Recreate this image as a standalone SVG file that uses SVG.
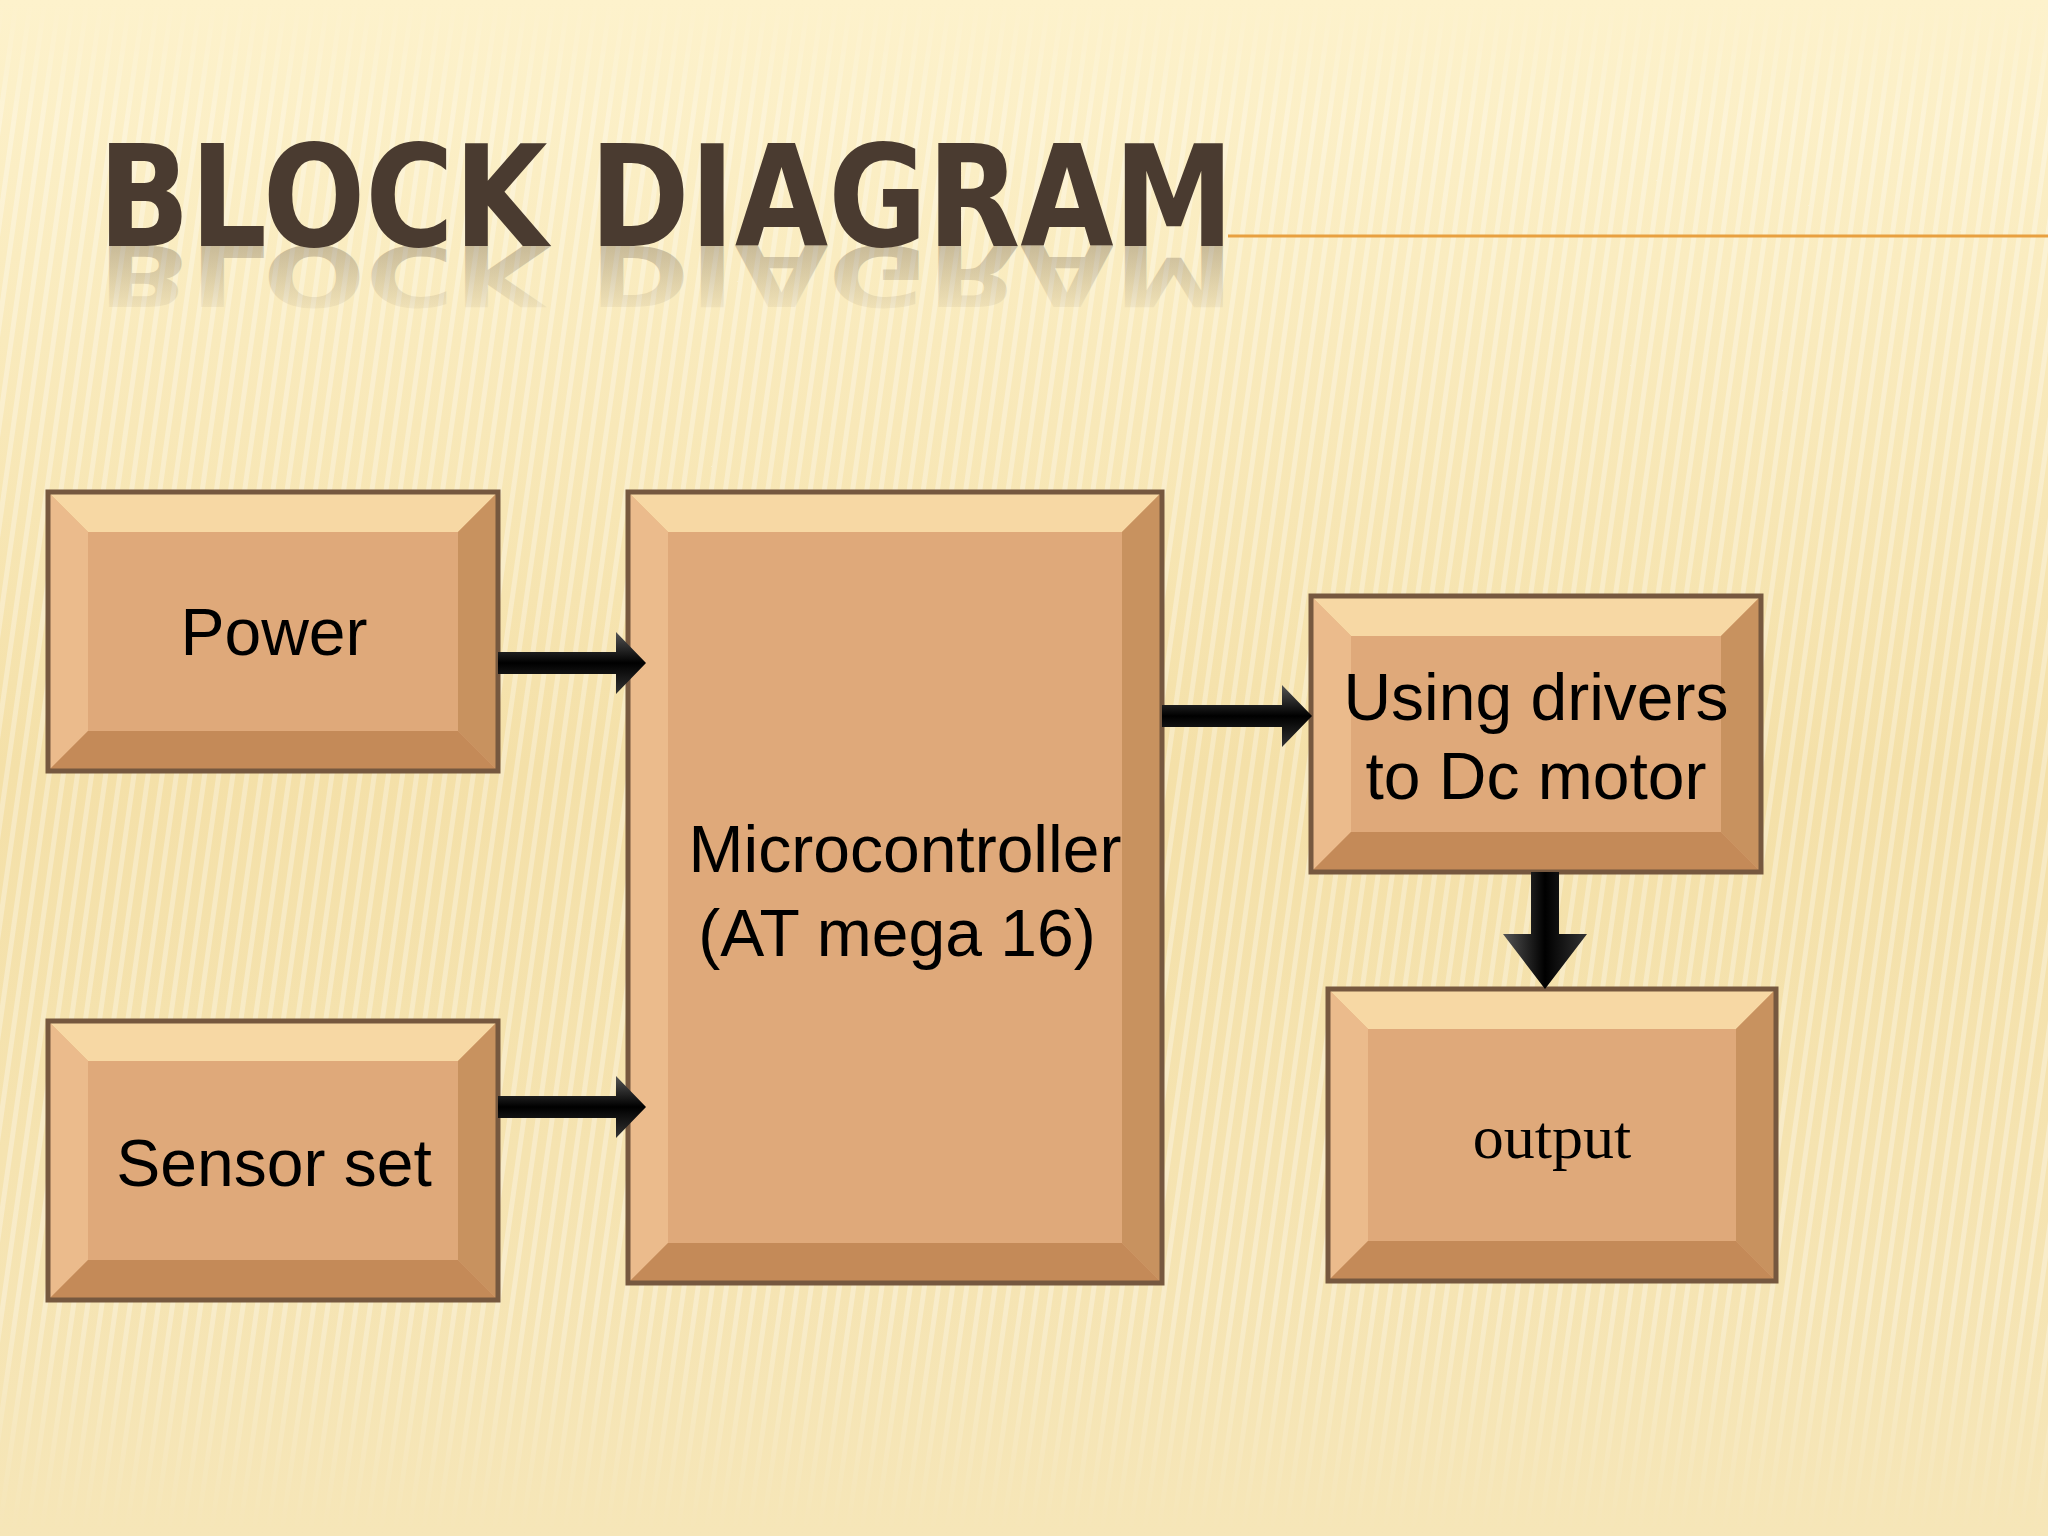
<svg xmlns="http://www.w3.org/2000/svg" width="2048" height="1536" viewBox="0 0 2048 1536">
<defs>
<linearGradient id="bg" x1="0" y1="0" x2="0" y2="1">
<stop offset="0" stop-color="#fdf2cc"/><stop offset="0.5" stop-color="#f4e0a8"/><stop offset="1" stop-color="#f6e6b8"/>
</linearGradient>
<linearGradient id="stripefade" x1="0" y1="0" x2="0" y2="1">
<stop offset="0" stop-color="#fff" stop-opacity="0"/><stop offset="0.08" stop-color="#fff" stop-opacity="1"/><stop offset="0.85" stop-color="#fff" stop-opacity="1"/><stop offset="1" stop-color="#fff" stop-opacity="0"/>
</linearGradient>
<mask id="fade"><rect width="2048" height="1536" fill="url(#stripefade)"/></mask>
<linearGradient id="refl" x1="0" y1="0" x2="0" y2="1"><stop offset="0" stop-color="#4a3b30" stop-opacity="0"/><stop offset="1" stop-color="#4a3b30" stop-opacity="0.35"/></linearGradient>
<pattern id="stripes" width="14" height="40" patternUnits="userSpaceOnUse" patternTransform="rotate(8)">
<rect width="5" height="40" fill="#ffffff" opacity="0.3"/>
</pattern>
<linearGradient id="arr" x1="0" y1="0" x2="0" y2="1"><stop offset="0" stop-color="#555"/><stop offset="0.5" stop-color="#000"/><stop offset="1" stop-color="#333"/></linearGradient>
<linearGradient id="arrv" x1="0" y1="0" x2="1" y2="0"><stop offset="0" stop-color="#555"/><stop offset="0.5" stop-color="#000"/><stop offset="1" stop-color="#333"/></linearGradient>
</defs>
<style>
.f{fill:#dfa97a}.t{fill:#f7d8a4}.l{fill:#ebbb8c}.r{fill:#c8925f}.b{fill:#c48a58}
.o{fill:none;stroke:#76583f;stroke-width:5}
.tx{font-family:"Liberation Sans",Arial,sans-serif;font-size:66px;fill:#000;text-anchor:middle}
.ti{font-family:'Comic Sans MS','DejaVu Sans',sans-serif;font-size:140px;font-weight:bold}
</style>
<rect width="2048" height="1536" fill="url(#bg)"/>
<rect width="2048" height="1536" fill="url(#stripes)" mask="url(#fade)"/>
<line x1="1228" y1="236" x2="2048" y2="236" stroke="#e8a040" stroke-width="3"/>
<text x="98" y="246" class="ti" transform="translate(0,393.6) scale(1,-0.6)" fill="url(#refl)" textLength="1136" lengthAdjust="spacingAndGlyphs">BLOCK DIAGRAM</text>
<text x="98" y="246" class="ti" fill="#4a3b30" textLength="1136" lengthAdjust="spacingAndGlyphs">BLOCK DIAGRAM</text>
<g id="power">
<rect x="48" y="492" width="450" height="279" class="f"/>
<polygon points="48,492 498,492 458,532 88,532" class="t"/><polygon points="48,492 88,532 88,731 48,771" class="l"/>
<polygon points="498,492 498,771 458,731 458,532" class="r"/><polygon points="48,771 88,731 458,731 498,771" class="b"/>
<rect x="48" y="492" width="450" height="279" class="o"/>
<text x="274" y="655" class="tx">Power</text></g>
<g id="sensor">
<rect x="48" y="1021" width="450" height="279" class="f"/>
<polygon points="48,1021 498,1021 458,1061 88,1061" class="t"/><polygon points="48,1021 88,1061 88,1260 48,1300" class="l"/>
<polygon points="498,1021 498,1300 458,1260 458,1061" class="r"/><polygon points="48,1300 88,1260 458,1260 498,1300" class="b"/>
<rect x="48" y="1021" width="450" height="279" class="o"/>
<text x="274" y="1186" class="tx">Sensor set</text></g>
<g id="micro">
<rect x="628" y="492" width="534" height="791" class="f"/>
<polygon points="628,492 1162,492 1122,532 668,532" class="t"/><polygon points="628,492 668,532 668,1243 628,1283" class="l"/>
<polygon points="1162,492 1162,1283 1122,1243 1122,532" class="r"/><polygon points="628,1283 668,1243 1122,1243 1162,1283" class="b"/>
<rect x="628" y="492" width="534" height="791" class="o"/>
<text x="905" y="872" class="tx">Microcontroller</text><text x="897" y="956" class="tx">(AT mega 16)</text></g>
<g id="drivers">
<rect x="1311" y="596" width="450" height="276" class="f"/>
<polygon points="1311,596 1761,596 1721,636 1351,636" class="t"/><polygon points="1311,596 1351,636 1351,832 1311,872" class="l"/>
<polygon points="1761,596 1761,872 1721,832 1721,636" class="r"/><polygon points="1311,872 1351,832 1721,832 1761,872" class="b"/>
<rect x="1311" y="596" width="450" height="276" class="o"/>
<text x="1536" y="720" class="tx">Using drivers</text><text x="1536" y="799" class="tx">to Dc motor</text></g>
<g id="output">
<rect x="1328" y="989" width="448" height="292" class="f"/>
<polygon points="1328,989 1776,989 1736,1029 1368,1029" class="t"/><polygon points="1328,989 1368,1029 1368,1241 1328,1281" class="l"/>
<polygon points="1776,989 1776,1281 1736,1241 1736,1029" class="r"/><polygon points="1328,1281 1368,1241 1736,1241 1776,1281" class="b"/>
<rect x="1328" y="989" width="448" height="292" class="o"/>
<text x="1552" y="1158" font-family="'Liberation Serif','Times New Roman',serif" font-size="62" text-anchor="middle">output</text></g>
<g id="connectors">
<polygon points="498,652 616,652 616,632 646,663 616,694 616,674 498,674" fill="url(#arr)"/>
<polygon points="498,1096 616,1096 616,1076 646,1107 616,1138 616,1118 498,1118" fill="url(#arr)"/>
<polygon points="1162,705 1282,705 1282,685 1312,716 1282,747 1282,727 1162,727" fill="url(#arr)"/>
<polygon points="1531,872 1559,872 1559,934 1587,934 1545,989 1503,934 1531,934" fill="url(#arrv)"/>
</g>
</svg>
